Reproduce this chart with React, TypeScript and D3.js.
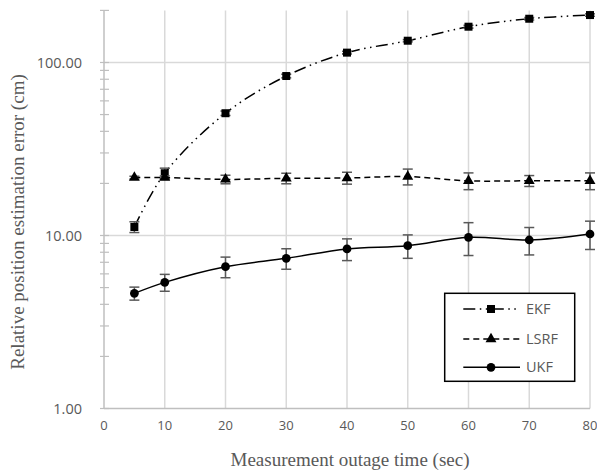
import { useEffect, useRef } from 'react';
import * as d3 from 'd3';

// outage times (sec)
const times = [5, 10, 20, 30, 40, 50, 60, 70, 80];

// mean errors (cm) and error bar half-widths
const ekf = [11.2, 22.9, 50.9, 83.5, 114, 133.6, 161, 179, 188];
const ekfErr = [0.8, 1.6, 1.5, 2, 2, 2, 3, 3, 3];
const lsrf = [21.6, 21.6, 21.1, 21.4, 21.5, 21.9, 20.7, 20.7, 20.7];
const lsrfErr = [0.4, 0.5, 1.2, 1.5, 1.7, 2.3, 2.3, 1.5, 2.3];
const ukf = [4.63, 5.36, 6.6, 7.38, 8.36, 8.73, 9.76, 9.42, 10.2];
const ukfErr = [0.4, 0.6, 0.9, 1.0, 1.2, 1.35, 2.1, 1.7, 1.9];

const xTicks = [0, 10, 20, 30, 40, 50, 60, 70, 80];
const yMajor = [1, 10, 100];

const App = () => {
  const svgRef = useRef<SVGSVGElement>(null);

  useEffect(() => {
    const svg = d3.select(svgRef.current);
    svg.selectAll('*').remove();

    const x = d3.scaleLinear().domain([0, 80]).range([104, 590]);
    const y = d3.scaleLog().domain([1, 200]).range([408.5, 10.4]);

    const grid = '#d9d9d9';
    const axisCol = '#bfbfbf';
    const textCol = '#595959';

    // vertical gridlines
    svg.append('g')
      .selectAll('line')
      .data(xTicks.filter(d => d > 0))
      .enter().append('line')
      .attr('x1', d => x(d)).attr('x2', d => x(d))
      .attr('y1', y(200)).attr('y2', y(1))
      .attr('stroke', grid).attr('stroke-width', 1.5);

    // horizontal gridlines
    svg.append('g')
      .selectAll('line')
      .data([10, 100])
      .enter().append('line')
      .attr('x1', x(0)).attr('x2', x(80))
      .attr('y1', d => y(d)).attr('y2', d => y(d))
      .attr('stroke', grid).attr('stroke-width', 1.5);

    // x axis line
    svg.append('line')
      .attr('x1', x(0)).attr('x2', x(80))
      .attr('y1', y(1)).attr('y2', y(1))
      .attr('stroke', axisCol).attr('stroke-width', 1.5);

    // y axis line + ticks (major and minor)
    svg.append('line')
      .attr('x1', x(0)).attr('x2', x(0))
      .attr('y1', y(200)).attr('y2', y(1))
      .attr('stroke', axisCol).attr('stroke-width', 1.5);

    const minor: number[] = [];
    [1, 10, 100].forEach(dec => {
      for (let k = 1; k <= 9; k++) {
        const v = dec * k;
        if (v <= 200) minor.push(v);
      }
    });
    svg.append('g')
      .selectAll('line')
      .data(minor)
      .enter().append('line')
      .attr('x1', x(0) - 4).attr('x2', x(0) + 5)
      .attr('y1', d => y(d)).attr('y2', d => y(d))
      .attr('stroke', axisCol).attr('stroke-width', 1.2);

    // tick labels
    svg.append('g')
      .selectAll('text')
      .data(yMajor)
      .enter().append('text')
      .attr('x', 82).attr('y', d => y(d))
      .attr('dy', '0.35em')
      .attr('text-anchor', 'end')
      .attr('font-family', 'Open Sans')
      .attr('font-size', 14.5)
      .attr('fill', textCol)
      .text(d => d3.format('.2f')(d));

    svg.append('g')
      .selectAll('text')
      .data(xTicks)
      .enter().append('text')
      .attr('x', d => x(d)).attr('y', 425)
      .attr('dy', '0.35em')
      .attr('text-anchor', 'middle')
      .attr('font-family', 'Open Sans')
      .attr('font-size', 13)
      .attr('fill', textCol)
      .text(d => d);

    // axis titles
    svg.append('text')
      .attr('x', 350).attr('y', 466)
      .attr('text-anchor', 'middle')
      .attr('font-family', 'Liberation Serif')
      .attr('font-size', 19)
      .attr('fill', textCol)
      .text('Measurement outage time (sec)');

    svg.append('text')
      .attr('transform', 'translate(24,222) rotate(-90)')
      .attr('text-anchor', 'middle')
      .attr('font-family', 'Liberation Serif')
      .attr('font-size', 19)
      .attr('fill', textCol)
      .text('Relative position estimation error (cm)');

    const series = [
      { name: 'EKF', vals: ekf, err: ekfErr, dash: '12,4.5,1.5,4.5,1.5,4.5', marker: 'square' },
      { name: 'LSRF', vals: lsrf, err: lsrfErr, dash: '6,4', marker: 'triangle' },
      { name: 'UKF', vals: ukf, err: ukfErr, dash: null, marker: 'circle' },
    ];

    const symbolFor = (m: string) =>
      m === 'square' ? d3.symbol().type(d3.symbolSquare).size(64)
        : m === 'triangle' ? d3.symbol().type(d3.symbolTriangle).size(52)
        : d3.symbol().type(d3.symbolCircle).size(60);

    const line = d3.line<number>()
      .x((_, i) => x(times[i]))
      .y(d => y(d))
      .curve(d3.curveCatmullRom.alpha(0.5));

    series.forEach(s => {
      svg.append('path')
        .datum(s.vals)
        .attr('fill', 'none')
        .attr('stroke', '#000')
        .attr('stroke-width', 1.5)
        .attr('stroke-dasharray', s.dash)
        .attr('d', line);

      // error bars
      const eb = svg.append('g').attr('stroke', textCol).attr('stroke-width', 1.5);
      s.vals.forEach((v, i) => {
        const cx = x(times[i]);
        const y1 = y(v + s.err[i]);
        const y2 = y(v - s.err[i]);
        eb.append('line').attr('x1', cx).attr('x2', cx).attr('y1', y1).attr('y2', y2);
        eb.append('line').attr('x1', cx - 5).attr('x2', cx + 5).attr('y1', y1).attr('y2', y1);
        eb.append('line').attr('x1', cx - 5).attr('x2', cx + 5).attr('y1', y2).attr('y2', y2);
      });

      svg.append('g')
        .selectAll('path')
        .data(s.vals)
        .enter().append('path')
        .attr('transform', (d, i) => `translate(${x(times[i])},${y(d)})`)
        .attr('d', symbolFor(s.marker))
        .attr('fill', '#000');
    });

    // legend
    const lg = svg.append('g');
    lg.append('rect')
      .attr('x', 444.7).attr('y', 293.3)
      .attr('width', 130).attr('height', 88)
      .attr('fill', '#fff')
      .attr('stroke', '#000').attr('stroke-width', 1.5);
    const rowY = [309, 339, 367.3];
    series.forEach((s, i) => {
      lg.append('line')
        .attr('x1', 463.3).attr('x2', 520)
        .attr('y1', rowY[i]).attr('y2', rowY[i])
        .attr('stroke', '#000').attr('stroke-width', 1.5)
        .attr('stroke-dasharray', s.dash);
      lg.append('path')
        .attr('transform', `translate(491,${rowY[i]})`)
        .attr('d', symbolFor(s.marker))
        .attr('fill', '#000');
      lg.append('text')
        .attr('x', 526).attr('y', rowY[i])
        .attr('dy', '0.35em')
        .attr('font-family', 'Open Sans')
        .attr('font-size', 14.5)
        .attr('fill', textCol)
        .text(s.name);
    });
  }, []);

  return (
    <svg ref={svgRef} width={597} height={473}
      style={{ position: 'absolute', left: 0, top: 0, background: '#fff' }} />
  );
};

export default App;
